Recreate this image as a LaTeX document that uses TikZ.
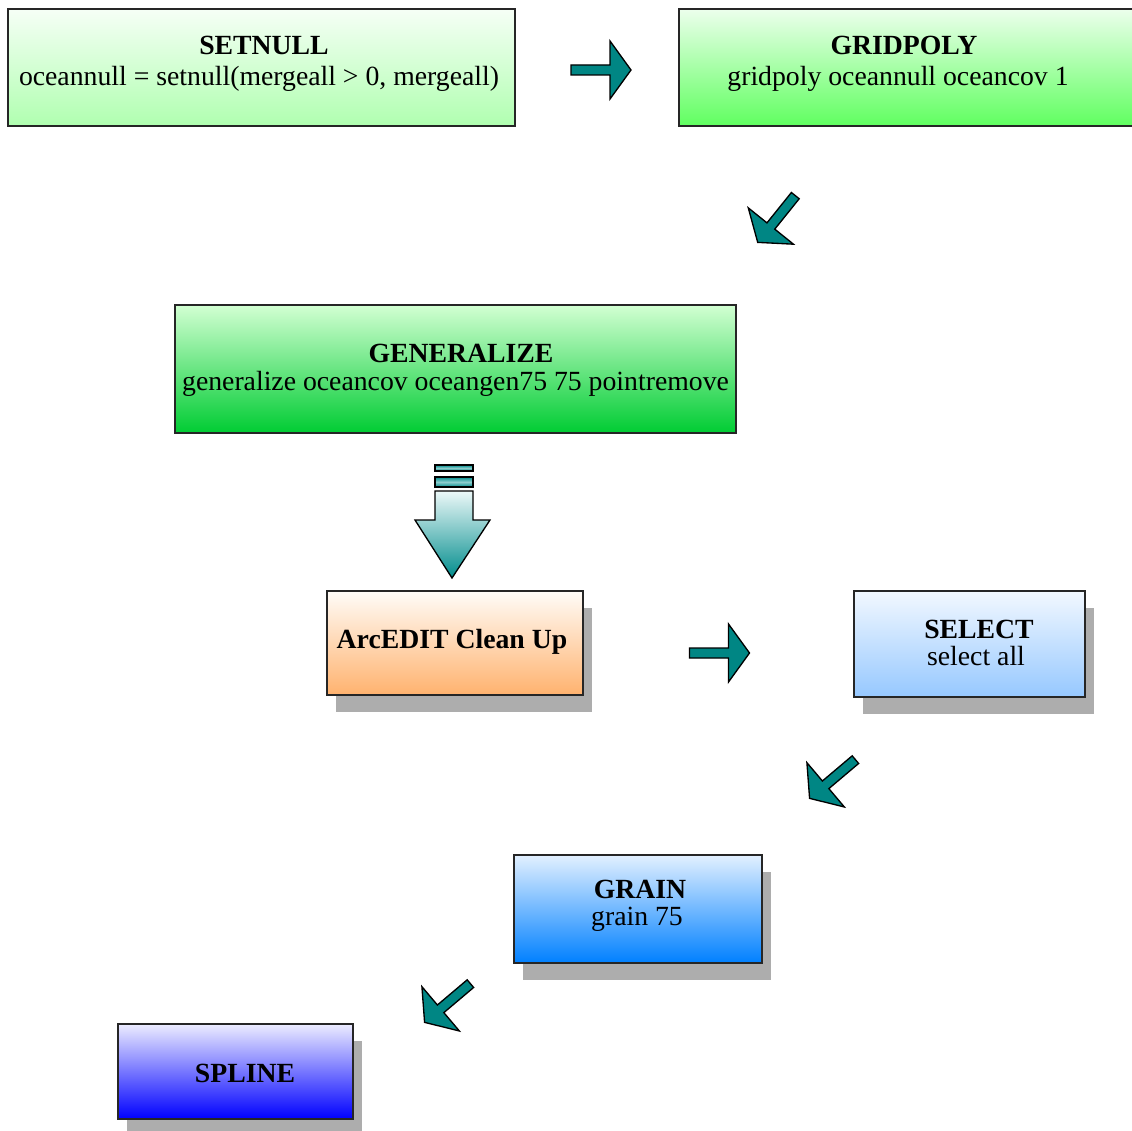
\documentclass[tikz,border=0pt]{standalone}
\usepackage{fontspec}
\setmainfont{Liberation Serif}
\usetikzlibrary{shadows}
\newdimen\pxu
\pxu=0.75pt
\definecolor{arrteal}{RGB}{0,134,132}
\definecolor{arrlight}{RGB}{236,248,248}
\definecolor{arrdark}{RGB}{0,140,140}
\definecolor{snT}{RGB}{246,255,246}
\definecolor{snB}{RGB}{176,255,176}
\definecolor{gpT}{RGB}{236,255,236}
\definecolor{gpB}{RGB}{96,255,96}
\definecolor{geT}{RGB}{210,255,210}
\definecolor{geB}{RGB}{0,204,51}
\definecolor{aeT}{RGB}{255,252,248}
\definecolor{aeB}{RGB}{255,178,110}
\definecolor{seT}{RGB}{242,248,255}
\definecolor{seB}{RGB}{150,200,255}
\definecolor{grT}{RGB}{226,240,255}
\definecolor{grB}{RGB}{0,128,255}
\definecolor{spT}{RGB}{236,236,255}
\definecolor{spB}{RGB}{0,0,255}
\tikzset{
  box/.style={draw=black!85, line width=1.3pt, rectangle, inner sep=0pt},
  shadowed/.style={drop shadow={shadow xshift=9\pxu, shadow yshift=-17\pxu, fill=black!32, opacity=1}},
  ttl/.style={font=\bfseries\fontsize{20.8pt}{22pt}\selectfont, anchor=base, inner sep=0pt},
  sub/.style={font=\fontsize{20.8pt}{22pt}\selectfont, anchor=base, inner sep=0pt},
  arrowshape/.style={fill=arrteal, draw=black, line width=1pt, line join=miter},
  blockarrow/.pic={\draw[arrowshape] (-30,-5) -- (9,-5) -- (9,-29) -- (30,0) -- (9,29) -- (9,5) -- (-30,5) -- cycle;}
}
\begin{document}
\begin{tikzpicture}[x=0.75pt,y=-0.75pt]
\useasboundingbox (0,0) rectangle (1132,1131);
\fill[white] (0,0) rectangle (1132,1131);

% boxes
\node[box, minimum width=507\pxu, minimum height=117\pxu, top color=snT, bottom color=snB] (setnull) at (261.5,67.5) {};
\node[box, minimum width=461\pxu, minimum height=117\pxu, top color=gpT, bottom color=gpB] (gridpoly) at (909.5,67.5) {};
\node[box, minimum width=561\pxu, minimum height=128\pxu, top color=geT, bottom color=geB] (generalize) at (455.5,369) {};
\node[box, shadowed, minimum width=256\pxu, minimum height=104\pxu, top color=aeT, bottom color=aeB] (arcedit) at (455,643) {};
\node[box, shadowed, minimum width=231\pxu, minimum height=106\pxu, top color=seT, bottom color=seB] (select) at (969.5,644) {};
\node[box, shadowed, minimum width=248\pxu, minimum height=108\pxu, top color=grT, bottom color=grB] (grain) at (638,909) {};
\node[box, shadowed, minimum width=235\pxu, minimum height=95\pxu, top color=spT, bottom color=spB] (spline) at (235.5,1071.5) {};

% texts
\node[ttl] (setnullA) at (264,55) {SETNULL};
\node[sub] (setnullB) at (259,85) {oceannull = setnull(mergeall > 0, mergeall)};
\node[ttl] (gridpolyA) at (904,55) {GRIDPOLY};
\node[sub] (gridpolyB) at (898,85) {gridpoly oceannull oceancov 1};
\node[ttl] (generalizeA) at (461,362) {GENERALIZE};
\node[sub] (generalizeB) at (455.5,390) {generalize oceancov oceangen75 75 pointremove};
\node[ttl] (arceditA) at (452,648) {ArcEDIT Clean Up};
\node[ttl] (selectA) at (979,638) {SELECT};
\node[sub] (selectB) at (976,665) {select all};
\node[ttl] (grainA) at (640,898) {GRAIN};
\node[sub] (grainB) at (637,925) {grain 75};
\node[ttl] (splineA) at (245,1082) {SPLINE};

% block arrows
\pic (arr1) at (601,70) {blockarrow};
\pic[rotate=231.2] (arr2) at (776.5,219) {blockarrow};
\pic (arr3) at (719.5,653) {blockarrow};
\pic[rotate=220.2] (arr4) at (832.5,779) {blockarrow};
\pic[rotate=220.2] (arr5) at (447.5,1003) {blockarrow};

% big down arrow
\shade[top color=arrdark, bottom color=arrdark, middle color=arrlight!60!arrdark, draw=black, line width=1pt] (435,465) rectangle (473,471);
\shade[top color=arrdark, bottom color=arrdark, middle color=arrlight!60!arrdark, draw=black, line width=1pt] (435,477) rectangle (473,487);
\shade[top color=arrlight, bottom color=arrdark, draw=black, line width=1pt, line join=miter]
  (435,491) -- (473,491) -- (473,520) -- (490,520) -- (452,578) -- (415,520) -- (435,520) -- cycle;
\end{tikzpicture}
\end{document}
